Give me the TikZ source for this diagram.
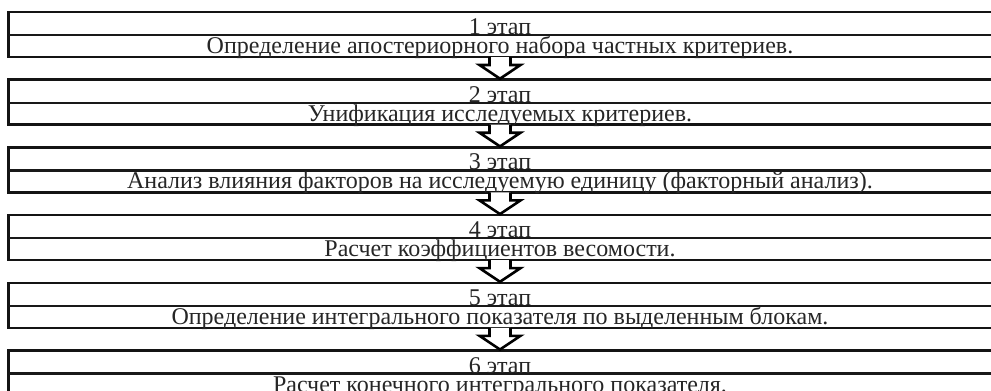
\documentclass[tikz,border=0pt]{standalone}
\usepackage{fontspec}
\setmainfont{Liberation Serif}
\usetikzlibrary{calc}
\tikzset{
  boxline/.style={line width=2.6pt, draw=black!92},
  midline/.style={line width=2.3pt, draw=black!90},
  stagelbl/.style={anchor=base, inner sep=0pt, font=\fontsize{24}{24}\selectfont, text=black!85},
  stagetxt/.style={anchor=base, inner sep=0pt, font=\fontsize{24}{24}\selectfont, text=black!85},
  blockarrow/.style={line width=2.6pt, draw=black, fill=white, line join=miter},
}
\newcommand{\stagebox}[4]{% #1 name, #2 top y, #3 label, #4 text
  \coordinate (#1top) at (500,#2);
  \coordinate (#1bot) at (500,#2+45);
  \draw[boxline] (1010,#2) -- (8.5,#2) -- (8.5,#2+45) -- (1010,#2+45);
  \draw[midline] (8.5,#2+23) -- (1010,#2+23);
  \node[stagelbl] (#1lbl) at (500,#2+22.5) {#3};
  \node[stagetxt] (#1txt) at (500,#2+41.5) {#4};
}
\newcommand{\blockarr}[2]{% from bottom of #1 to top of #2
  \draw[blockarrow] ($(#1bot)+(-10.5,0)$) -- ($(#1bot)+(-10.5,8)$) -- ($(#1bot)+(-20.5,8)$)
    -- ($(#2top)+(0,-1)$) -- ($(#1bot)+(20.5,8)$) -- ($(#1bot)+(10.5,8)$) -- ($(#1bot)+(10.5,0)$);
}
\begin{document}
\begin{tikzpicture}[x=1pt,y=-1pt]
\useasboundingbox (0,0) rectangle (991,391);
\clip (0,0) rectangle (991,391);
\fill[white] (0,0) rectangle (991,391);
\stagebox{s1}{12}{1 этап}{Определение апостериорного набора частных критериев.}
\stagebox{s2}{79.7}{2 этап}{Унификация исследуемых критериев.}
\stagebox{s3}{147.4}{3 этап}{Анализ влияния факторов на исследуемую единицу (факторный анализ).}
\stagebox{s4}{215.1}{4 этап}{Расчет коэффициентов весомости.}
\stagebox{s5}{282.8}{5 этап}{Определение интегрального показателя по выделенным блокам.}
\stagebox{s6}{350.5}{6 этап}{Расчет конечного интегрального показателя.}
\blockarr{s1}{s2}
\blockarr{s2}{s3}
\blockarr{s3}{s4}
\blockarr{s4}{s5}
\blockarr{s5}{s6}
\end{tikzpicture}
\end{document}
